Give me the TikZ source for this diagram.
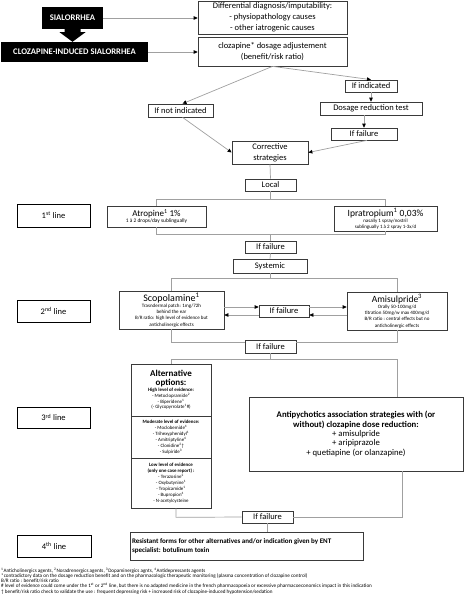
\documentclass[tikz,border=0pt]{standalone}
\usepackage{fontspec}
\setmainfont{Carlito}
\usetikzlibrary{arrows.meta,calc}
\definecolor{bordc}{HTML}{3A3A3A}
\definecolor{connc}{HTML}{A0A0A0}
\newcommand{\fsz}[2]{\fontsize{#1}{#2}\selectfont}
\begin{document}
\begin{tikzpicture}[x=1pt,y=-1pt,
  box/.style={draw=bordc, line width=0.7pt, fill=white, inner sep=0pt, align=flush center, font=\fsz{8.5}{11}},
  blk/.style={fill=black, text=white, inner sep=0pt, align=center, font=\bfseries\fsz{8.6}{9}},
  lbox/.style={box, draw=black, minimum width=73pt, font=\fsz{8.5}{10}},
  conn/.style={draw=connc, line width=0.7pt},
  arr/.style={conn, -{Triangle[length=4pt,width=3.6pt,color=black]}}
]
\useasboundingbox (0,0) rectangle (464,600);

% top
\node[blk, minimum width=61pt, minimum height=22pt] (sial) at (72.5,18) {SIALORRHEA};
\node[blk, minimum width=147pt, minimum height=20pt] (clozind) at (74.5,52) {CLOZAPINE-INDUCED SIALORRHEA};
\node[box, minimum width=149pt, minimum height=33pt] (diff) at (272.5,17.5) {Differential diagnosis/imputability:\\- physiopathology causes\\- other iatrogenic causes};
\node[box, minimum width=149pt, minimum height=29pt] (cloz) at (272.5,51.5) {clozapine* dosage adjustement\\(benefit/risk ratio)};
\node[box, minimum width=52pt, minimum height=12pt] (ifind) at (371,86) {If indicated};
\node[box, minimum width=102pt, minimum height=13pt] (dosred) at (371,108.5) {Dosage reduction test};
\node[box, minimum width=65pt, minimum height=13pt] (ifnot) at (180.5,110.5) {If not indicated};
\node[box, minimum width=66pt, minimum height=12pt] (fail1) at (364,134) {If failure};
\node[box, minimum width=76pt, minimum height=23pt] (corr) at (270,152.5) {Corrective\\strategies};
\node[box, minimum width=51pt, minimum height=12pt] (local) at (270.5,185) {Local};

% 1st line
\node[lbox, minimum height=23pt] (line1) at (53.5,215.5) {1\textsuperscript{st} line};
\node[box, minimum width=99pt, minimum height=21pt, text width=97pt] (atro) at (156.5,216.5)
  {{\fsz{9}{10}Atropine\textsuperscript{1} 1\%\par}{\fsz{5.4}{6}1 à 2 drops/day sublingually\par}};
\node[box, minimum width=103pt, minimum height=25pt, text width=101pt] (ipra) at (385.5,218.5)
  {{\fsz{9.5}{10.5}Ipratropium\textsuperscript{1} 0,03\%\par}{\fsz{5}{6}nasally 1 spray/nostril\\sublingually 1 à 2 spray 1-3x/d\par}};
\node[box, minimum width=51pt, minimum height=12pt] (fail2) at (270.5,247) {If failure};
\node[box, minimum width=74pt, minimum height=14pt] (syst) at (270,266) {Systemic};

% 2nd line
\node[lbox, minimum height=22pt] (line2) at (53.5,311) {2\textsuperscript{nd} line};
\node[box, minimum width=105pt, minimum height=38pt, text width=103pt] (scop) at (171.5,310)
  {{\fsz{10}{10.5}Scopolamine\textsuperscript{1}\par}{\fsz{5}{6.2}Trasndermal patch: 1mg/72h\\behind the ear\\B/R ratio: high level of evidence but\\anticholinergic effects\par}};
\node[box, minimum width=100pt, minimum height=38pt, text width=98pt] (amis) at (397,311)
  {{\fsz{9.5}{10.5}Amisulpride\textsuperscript{3}\par}{\fsz{5}{6.2}Orally 50-100mg/d\\titration 50mg/w max 400mg/d\\B/R ratio : central effects but no\\anticholinergic effects\par}};
\node[box, minimum width=50pt, minimum height=12pt] (fail3m) at (284,311) {If failure};
\node[box, minimum width=51pt, minimum height=13pt] (fail3) at (270.5,346.5) {If failure};

% 3rd line
\node[lbox, minimum height=21pt] (line3) at (53.5,417.5) {3\textsuperscript{rd} line};
\node[box, minimum width=80pt, minimum height=52pt, text width=78pt] (alt1) at (171,390)
  {{\bfseries\fsz{9}{9}Alternative\\options:\par}{\fsz{4.9}{5.8}\textbf{High level of evidence:}\\- Metoclopramide\textsuperscript{2}\\- Biperidene\textsuperscript{1}\\(- Glycopyrrolate\textsuperscript{1}\#)\par}};
\node[box, minimum width=80pt, minimum height=42pt, text width=78pt] (alt2) at (171,437)
  {{\fsz{4.9}{6}\textbf{Moderate level of evidence:}\\- Moclobemide\textsuperscript{4}\\- Trihexyphenidyl\textsuperscript{1}\\- Amitriptyline\textsuperscript{4}\\- Clonidine\textsuperscript{2}\textdagger\\- Sulpiride\textsuperscript{3}\par}};
\node[box, minimum width=80pt, minimum height=50pt, text width=78pt] (alt3) at (171,483)
  {{\fsz{4.9}{6}\textbf{Low level of evidence}\\\textbf{(only one case report) :}\\- Terazosine\textsuperscript{2}\\- Oxybutynine\textsuperscript{1}\\- Tropicamide\textsuperscript{1}\\- Bupropion\textsuperscript{4}\\- N-acetylcysteine\par}};
\node[box, minimum width=214pt, minimum height=74pt, text width=212pt] (anti) at (356,434)
  {{\bfseries\fsz{8.7}{9.5}Antipychotics association strategies with (or\\without) clozapine dose reduction:\par}{\fsz{8.7}{9.3}+ amisulpride\\+ aripiprazole\\+ quetiapine (or olanzapine)\par}};
\node[box, minimum width=51pt, minimum height=12pt] (fail4) at (267.5,517) {If failure};

% 4th line
\node[lbox, minimum width=74pt, minimum height=22pt] (line4) at (54,546) {4\textsuperscript{th} line};
\node[box, minimum height=28pt, text width=229pt, inner xsep=2pt, align=flush left, font=\bfseries\fsz{7}{8.5}] (resist) at (246.5,546)
  {Resistant forms for other alternatives and/or indication given by ENT\\specialist: botulinum toxin};

% footnotes
\node[anchor=north west, inner sep=0pt, align=left, font=\fsz{5.15}{5.3}] (notes) at (1,567.5)
  {\textsuperscript{1}Anticholinergics agents, \textsuperscript{2}Noradrenergics agents, \textsuperscript{3}Dopaminergics agnts, \textsuperscript{4}Antidepressants agents\\
   *contradictory data on the dosage reduction benefit and on the pharmacologic therapeutic monitoring (plasma concentration of clozapine control)\\
   B/R ratio : benefit/risk ratio\\
   \# level of evidence could come under the 1\textsuperscript{st} or 2\textsuperscript{nd} line, but there is no adapted medicine in the french pharmacopoeia or excessive pharmacoeconomics impact in this indication\\
   \textdagger{} benefit/risk ratio check to validate the use : frequent depressing risk + increased risk of clozapine-induced hypotension/sedation};

% block arrow
\fill[black] ($(sial.south)+(-8,0)$) -- ($(sial.south)+(8,0)$) -- ($(sial.south)+(8,3)$) -- ($(sial.south)+(13,3)$)
  -- (sial.south |- clozind.north) -- ($(sial.south)+(-13,3)$) -- ($(sial.south)+(-8,3)$) -- cycle;

% connectors
\draw[arr] (sial.east) -- (sial.east -| diff.west);
\draw[arr] (clozind.east) -- (clozind.east -| cloz.west);
\draw[arr] (cloz.south) -- (ifind.north);
\draw[arr] (cloz.south) -- ($(ifnot.north)+(2,0)$);
\draw[arr] (ifind.south) -- (dosred.north);
\draw[arr] (fail1.north |- dosred.south) -- (fail1.north);
\draw[arr] ($(ifnot.south)+(2,0)$) -- (corr.west);
\draw[arr] ($(fail1.south)+(3,0)$) -- (corr.east);
\draw[conn] (corr.south) -- (local.north);

\coordinate (b1) at ($(local.south)+(0,8)$);
\draw[conn] (local.south) -- (b1);
\draw[conn] (atro.north) -- (atro.north |- b1) -- (ipra.north |- b1) -- (ipra.north);

\coordinate (b2) at ($(fail2.north)+(0,-6)$);
\draw[conn] (atro.south) -- (atro.south |- b2) -- (ipra.south |- b2) -- (ipra.south);
\draw[conn] (b2) -- (fail2.north);
\draw[conn] (fail2.south) -- (syst.north);

\coordinate (b3) at ($(syst.south)+(0,5)$);
\draw[conn] (syst.south) -- (b3);
\draw[conn] (scop.north) -- (scop.north |- b3) -- (amis.north |- b3) -- (amis.north);

\draw[arr] (scop.east |- 0,307) -- (fail3m.west |- 0,307);
\draw[arr] (fail3m.east |- 0,307) -- (amis.west |- 0,307);
\draw[arr] (amis.west |- 0,315) -- (fail3m.east |- 0,315);
\draw[arr] (fail3m.west |- 0,315) -- (scop.east |- 0,315);

\coordinate (b4) at ($(fail3.north)+(0,3)$);
\draw[conn] (scop.south) -- (scop.south |- b4) -- (fail3.west |- b4);
\draw[conn] (amis.south) -- (amis.south |- b4) -- (fail3.east |- b4);

\coordinate (b5) at ($(fail3.south)+(0,6)$);
\draw[conn] (fail3.south) -- (b5);
\draw[conn] (alt1.north) -- (alt1.north |- b5) -- (397,0 |- b5) -- (397,0 |- anti.north);

\draw[conn] ($(alt3.south)+(5,0)$) -- ($(alt3.south)+(5,9)$) -- (fail4.west);
\draw[conn] (402,0 |- anti.south) -- (402,0 |- fail4.east) -- (fail4.east);
\draw[conn] (fail4.south) -- (fail4.south |- resist.north);
\end{tikzpicture}
\end{document}
